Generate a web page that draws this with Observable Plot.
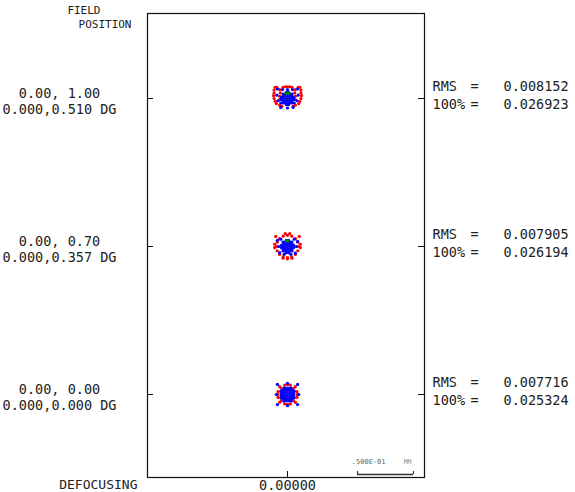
<!DOCTYPE html>
<html>
<head>
<meta charset="utf-8">
<script src="https://cdn.jsdelivr.net/npm/d3@7"></script>
<script src="https://cdn.jsdelivr.net/npm/@observablehq/plot@0.6"></script>
<style>
  html, body { margin: 0; padding: 0; background: #fff; }
  #chart svg { display: block; }
</style>
</head>
<body>
<div id="chart"></div>
<script>
// ---------------- data ----------------
const fieldLabels = ["0.00, 1.00\n0.000,0.510 DG", "0.00, 0.70\n0.000,0.357 DG", "0.00, 0.00\n0.000,0.000 DG"];
const rmsValues = ["0.008152", "0.007905", "0.007716"];
const fullValues = ["0.026923", "0.026194", "0.025324"];
const defocusLabel = "0.00000";
const scaleBarLabel = ".500E-01";
const scaleBarUnits = "MM";
const scaleBarLength = 50; // micrometres (0.05 mm)

// spot ray intercepts, micrometres relative to the chief ray (x right, y up)
const coreBlue = [[0,0],[2,0],[-2,0],[4,0],[-4,0],[0,2],[0,-2],[0,4],[0,-4],[2,2],[-2,2],[2,-2],[-2,-2],[2,4],[-2,4],[2,-4],[-2,-4],[4,2],[-4,2],[4,-2],[-4,-2],[5.5,1],[-5.5,1],[5.5,-1],[-5.5,-1],[1,5.5],[-1,5.5],[1,-5.5],[-1,-5.5],[4,4],[-4,4],[4,-4],[-4,-4]];

const redF100 = [[-11,10],[-9.5,10],[-4,10],[-2,10.5],[0,10.5],[2,10.5],[4,10],[9.5,10],[11,10],
  [-12,7.5],[-7,8],[7,8],[12,7.5],
  [-12,5],[-12.5,2.5],[-12,0],[-11,-2.5],[-10,-4.5],[12,5],[12.5,2.5],[12,0],[11,-2.5],[10,-4.5],
  [-6.5,5],[6.5,5],[-7,2],[7,2],[-7,-1],[7,-1],
  [-7,-6],[-5,-7],[5,-7],[7,-6]];
const blueF100 = [[-9,8.5],[-4.5,8],[0,8],[4.5,8],[9,8.5],[-8.5,-2],[8.5,-2],[-6,-8],[0,-8.5],[5,-8],[-9.5,3],[9.5,3],[-6,-4],[6,-4]];
const greenF100 = [[-1.5,4.5],[0,4.5],[1.5,4.5]];

const redF070 = [[10,0],[9.2,3.8],[7.1,7.1],[3.8,9.2],[0,10],[-3.8,9.2],[-7.1,7.1],[-9.2,3.8],[-10,0],[-9.2,-3.8],[-7.1,-7.1],[-3.8,-9.2],[0,-10],[3.8,-9.2],[7.1,-7.1],[9.2,-3.8],
  [-2,11.5],[2,11.5],[-10.5,9],[10.5,9],[-11.5,2],[11.5,2],[-11.5,-1],[11.5,-1],[-4,-10.5],[0,-11],[4,-10.5]];
const blueF070 = [[-9,5.5],[9,4.5],[-7,-5.5],[7,-6],[-6,6.5],[6,6.5],[-3,-7],[3,-7],[-8,0],[8,0]];
const greenF070 = [[-1,5],[0.5,5]];

const redF000 = [[7,7],[-7,7],[7,-7],[-7,-7],[5.5,5.5],[-5.5,5.5],[5.5,-5.5],[-5.5,-5.5],
  [0,8.5],[0,-8.5],[8.5,0],[-8.5,0],[2.5,8.5],[-2.5,8.5],[2.5,-8.5],[-2.5,-8.5],
  [8.5,2.5],[-8.5,2.5],[8.5,-2.5],[-8.5,-2.5]];
const blueF000 = [[9,9],[-9,9],[9,-9],[-9,-9],[10,0],[-10,0],[0,10],[0,-10],[6,3],[-6,3],[6,-3],[-6,-3],[3,6],[-3,6],[3,-6],[-3,-6]];
const greenF000 = [];

// ---------------- layout ----------------
const W = 575, H = 492;
const mL = 147, mR = 151, mT = 13, mB = 15;
const frameW = W - mL - mR, frameH = H - mT - mB;
const k = 1.12;                // px per micrometre
const fieldSpacing = 148 / k;  // spacing between field rows, micrometres
const xDomain = [-140 / k, 137 / k];
const yDomain = [-83 / k, (394 - 13) / k];
const centers = [2 * fieldSpacing, fieldSpacing, 0];

const fields = [
  {red: redF100, blue: coreBlue.concat(blueF100), green: greenF100},
  {red: redF070, blue: coreBlue.concat(blueF070), green: greenF070},
  {red: redF000, blue: coreBlue.concat(blueF000), green: greenF000}
];
const spots = [];
fields.forEach((f, i) => {
  for (const c of ["red", "blue", "green"]) {
    for (const [x, y] of f[c]) spots.push({x, y: y + centers[i], c});
  }
});
const labelOf = new Map(centers.map((c, i) => [c, i]));

const barX2 = xDomain[1] - 11 / k;
const barX1 = barX2 - scaleBarLength;
const font = "DejaVu Sans Mono";

const chart = Plot.plot({
  width: W, height: H,
  marginLeft: mL, marginRight: mR, marginTop: mT, marginBottom: mB,
  style: {fontFamily: font, fontSize: "13.5px", color: "#222", background: "#fff"},
  x: {domain: xDomain, label: null},
  y: {domain: yDomain, label: null},
  color: {domain: ["red", "blue", "green"], range: ["#ff1010", "#1010ff", "#00a000"]},
  marks: [
    Plot.frame({stroke: "#111", strokeWidth: 1.2}),
    Plot.dot(spots, {x: "x", y: "y", r: 1.6, fill: "c", stroke: null}),
    // inward tick marks
    Plot.tickY(centers, {y: d => d, insetRight: frameW - 6, stroke: "#111"}),
    Plot.tickY(centers, {y: d => d, insetLeft: frameW - 6, stroke: "#111"}),
    Plot.tickX([0], {x: d => d, insetTop: frameH - 6, stroke: "#111"}),
    // axes
    Plot.axisX([0], {tickFormat: () => defocusLabel, tickSize: 0, tickPadding: 3, fontSize: 13.5, label: null}),
    Plot.axisY(centers, {tickFormat: d => fieldLabels[labelOf.get(d)], tickSize: 0, tickPadding: 88, textAnchor: "middle", lineHeight: 1.19, dy: 2, fontSize: 13.5, label: null}),
    // right-hand statistics
    Plot.text(centers, {y: d => d, frameAnchor: "right", dx: 8, dy: -4, textAnchor: "start", lineHeight: 1.33, text: () => "RMS\n100%"}),
    Plot.text(centers, {y: d => d, frameAnchor: "right", dx: 46, dy: -4, textAnchor: "start", lineHeight: 1.33, text: () => "=\n="}),
    Plot.text(centers, {y: d => d, frameAnchor: "right", dx: 79, dy: -4, textAnchor: "start", lineHeight: 1.33, text: (d, i) => rmsValues[i] + "\n" + fullValues[i]}),
    // titles
    Plot.text(["FIELD"], {text: d => d, frameAnchor: "top-left", dx: -47, dy: -3, textAnchor: "end", lineAnchor: "middle", fontSize: 11}),
    Plot.text(["POSITION"], {text: d => d, frameAnchor: "top-left", dx: -16, dy: 11, textAnchor: "end", lineAnchor: "middle", fontSize: 11}),
    Plot.text(["DEFOCUSING"], {text: d => d, frameAnchor: "bottom-left", dx: -10, dy: 7, textAnchor: "end", lineAnchor: "middle", fontSize: 13}),
    // scale bar
    Plot.ruleY([yDomain[0] + 3 / k], {x1: barX1, x2: barX2, stroke: "#333", strokeWidth: 1.5}),
    Plot.ruleX([barX1, barX2], {y1: yDomain[0] + 3 / k, y2: yDomain[0] + 6 / k, stroke: "#333", strokeWidth: 1.2}),
    Plot.text([scaleBarLabel], {text: d => d, frameAnchor: "bottom-right", dx: -39, dy: -16, textAnchor: "end", lineAnchor: "middle", fontSize: 7, fill: "#666"}),
    Plot.text([scaleBarUnits], {text: d => d, frameAnchor: "bottom-right", dx: -13, dy: -16, textAnchor: "end", lineAnchor: "middle", fontSize: 6.5, fill: "#888"})
  ]
});
document.getElementById("chart").appendChild(chart);
</script>
</body>
</html>
